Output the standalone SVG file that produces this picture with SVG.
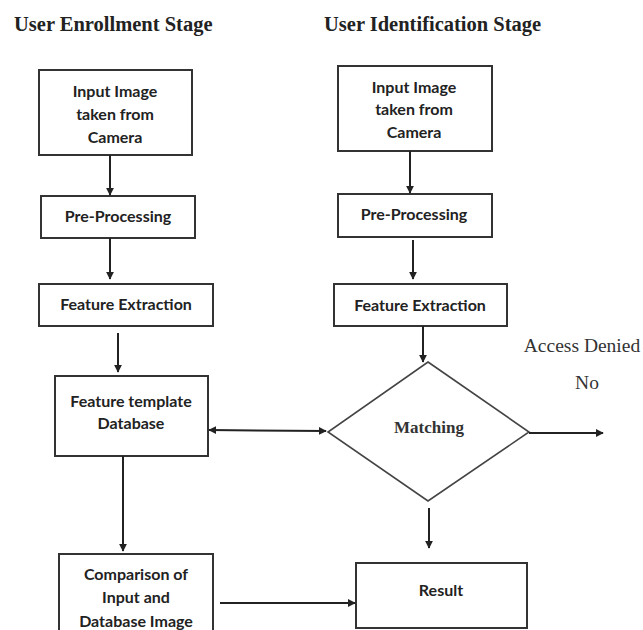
<svg xmlns="http://www.w3.org/2000/svg" width="643" height="630" viewBox="0 0 643 630">
<style>
.box{fill:#fff;stroke:#333;stroke-width:2}
.dia{fill:#fff;stroke:#444;stroke-width:1.6}
.t{font-family:Lato,"Open Sans",sans-serif;font-weight:bold;font-size:16px;fill:#222;text-anchor:middle;dominant-baseline:central}
.h{font-family:"Liberation Serif",serif;font-weight:bold;font-size:20.5px;fill:#222}
.s{font-family:"Liberation Serif",serif;font-size:19.5px;fill:#333;text-anchor:middle;dominant-baseline:central}
.m{font-family:"Liberation Serif",serif;font-weight:bold;font-size:17px;fill:#333;text-anchor:middle;dominant-baseline:central}
.c{stroke:#222;stroke-width:2;fill:none}
</style>
<defs>
<marker id="ah" viewBox="0 0 10 10" refX="9" refY="5" markerWidth="8" markerHeight="8" markerUnits="userSpaceOnUse" orient="auto-start-reverse"><path d="M0,0L10,5L0,10z" fill="#222"/></marker>
</defs>
<rect width="643" height="630" fill="#fff"/>
<text class="h" x="14" y="31">User Enrollment Stage</text>
<text class="h" x="324" y="31">User Identification Stage</text>

<g id="e_input"><rect class="box" x="39" y="70" width="153" height="85"/>
<text class="t" x="115" y="90">Input Image</text><text class="t" x="115" y="113">taken from</text><text class="t" x="115" y="136">Camera</text></g>
<g id="e_pre"><rect class="box" x="41" y="196" width="154" height="42"/><text class="t" x="118" y="215">Pre-Processing</text></g>
<g id="e_feat"><rect class="box" x="39" y="284" width="174" height="42"/><text class="t" x="126" y="303">Feature Extraction</text></g>
<g id="e_db"><rect class="box" x="55" y="376" width="153" height="80"/>
<text class="t" x="131" y="400">Feature template</text><text class="t" x="131" y="422">Database</text></g>
<g id="e_cmp"><rect class="box" x="59" y="554" width="154" height="90"/>
<text class="t" x="136" y="573">Comparison of</text><text class="t" x="136" y="596">Input and</text><text class="t" x="136" y="620">Database Image</text></g>

<g id="i_input"><rect class="box" x="338" y="66" width="154" height="85"/>
<text class="t" x="414" y="86">Input Image</text><text class="t" x="414" y="108">taken from</text><text class="t" x="414" y="131">Camera</text></g>
<g id="i_pre"><rect class="box" x="338" y="194" width="154" height="43"/><text class="t" x="414" y="213">Pre-Processing</text></g>
<g id="i_feat"><rect class="box" x="334" y="284" width="173" height="42"/><text class="t" x="420" y="304">Feature Extraction</text></g>
<g id="i_match"><polygon class="dia" points="428,362 529,432 428,501 328,432"/><text class="m" x="429" y="427">Matching</text></g>
<g id="i_result"><rect class="box" x="356" y="563" width="171" height="65"/><text class="t" x="441" y="589">Result</text></g>

<g id="labels">
<text class="s" x="582" y="345">Access Denied</text>
<text class="s" x="587" y="382">No</text>
</g>

<g id="connectors">
<line class="c" x1="110" y1="155" x2="110" y2="195" marker-end="url(#ah)"/>
<line class="c" x1="110" y1="238" x2="110" y2="279" marker-end="url(#ah)"/>
<line class="c" x1="118" y1="333" x2="118" y2="372" marker-end="url(#ah)"/>
<line class="c" x1="123" y1="456" x2="123" y2="551" marker-end="url(#ah)"/>
<line class="c" x1="220" y1="603" x2="355" y2="603" marker-end="url(#ah)"/>
<line class="c" x1="410" y1="151" x2="410" y2="193" marker-end="url(#ah)"/>
<line class="c" x1="413" y1="240" x2="413" y2="279" marker-end="url(#ah)"/>
<line class="c" x1="423" y1="326" x2="423" y2="362" marker-end="url(#ah)"/>
<line class="c" x1="209" y1="430" x2="326" y2="431" marker-start="url(#ah)" marker-end="url(#ah)"/>
<line class="c" x1="529" y1="433" x2="603" y2="433" marker-end="url(#ah)"/>
<line class="c" x1="429" y1="508" x2="429" y2="548" marker-end="url(#ah)"/>
</g>
</svg>
